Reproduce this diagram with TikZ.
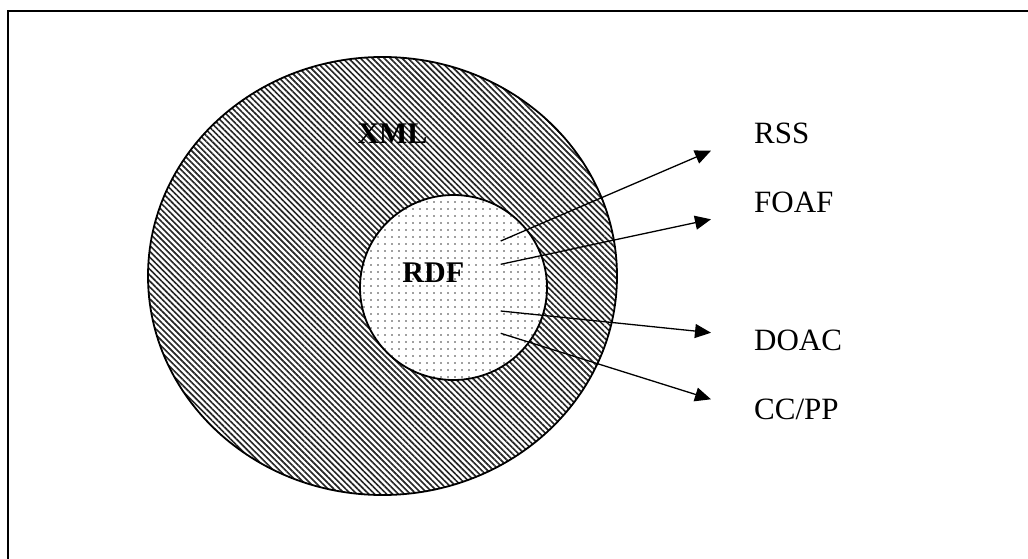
\documentclass[tikz,border=0pt]{standalone}
\usepackage{fontspec}
\setmainfont{Liberation Serif}
\usetikzlibrary{shapes.geometric,patterns.meta,arrows.meta}
\begin{document}
\begin{tikzpicture}[x=1pt,y=-1pt,
  ring/.style={ellipse, draw=black, line width=1.8pt, inner sep=0pt},
  hatched/.style={pattern={Lines[angle=-45,distance=4.2pt,line width=1.65pt]}, pattern color=black!85},
  dotted area/.style={preaction={fill=white}, pattern={Dots[distance=7pt,radius=0.8pt]}, pattern color=black!75},
  link/.style={-{Triangle[length=16pt,width=14pt]}, line width=1.3pt},
  tag/.style={anchor=base west, inner sep=0pt, font=\fontsize{31}{36}\selectfont},
  title/.style={anchor=base, inner sep=0pt, font=\fontsize{30}{36}\selectfont\bfseries}]
\useasboundingbox (0,0) rectangle (1028,559);

% frame (top and left edges)
\draw[line width=2pt] (8,559) -- (8,11) -- (1028,11);

% nested sets
\node[ring, hatched, minimum width=469pt, minimum height=438pt] (xml) at (382.5,276) {};
\node[ring, dotted area, minimum width=187pt, minimum height=185pt] (rdf) at (453.5,287.5) {};

\node[title] (xmllbl) at (392.5,143.3) {XML};
\node[title] (rdflbl) at (433.3,282.3) {RDF};

% vocabularies built on RDF
\node[tag] (rss)  at (754,143)   {RSS};
\node[tag] (foaf) at (754,212.3) {FOAF};
\node[tag] (doac) at (754,350)   {DOAC};
\node[tag] (ccpp) at (754,419)   {CC/PP};

\coordinate (s1) at (500.7,241);
\coordinate (s2) at (500.7,264.3);
\coordinate (s3) at (500.7,311);
\coordinate (s4) at (500.7,333.3);
\coordinate (t1) at (711,150.7);
\coordinate (t2) at (711,219.3);
\coordinate (t3) at (711,332.7);
\coordinate (t4) at (711,399.3);

\draw[link] (s1) -- (t1);
\draw[link] (s2) -- (t2);
\draw[link] (s3) -- (t3);
\draw[link] (s4) -- (t4);
\end{tikzpicture}
\end{document}
